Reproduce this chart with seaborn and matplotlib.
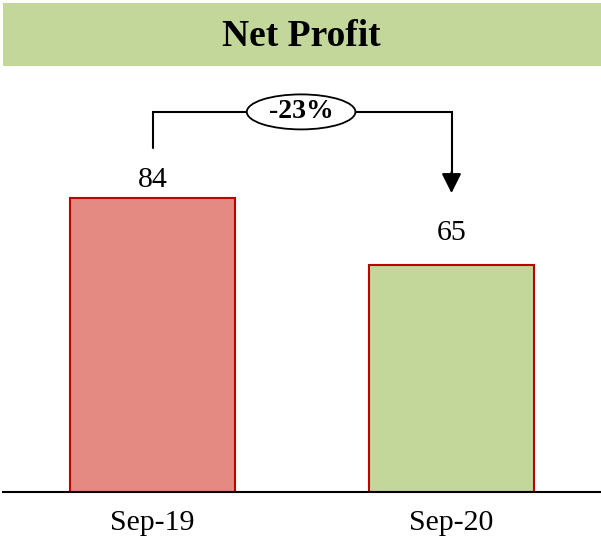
import matplotlib
matplotlib.use("Agg")
import matplotlib.pyplot as plt
import seaborn as sns
import pandas as pd
from matplotlib.patches import Rectangle, Ellipse

categories = ["Sep-19", "Sep-20"]
values = [84, 65]
label_offsets = [5.2, 9.0]
change_label = "-23%"
title = "Net Profit"

bar_colors = ["#e48a82", "#c4d79b"]
edge_color = "#c00000"
header_color = "#c4d79b"

sns.set_theme(style="white")
plt.rcParams["font.family"] = ["Liberation Serif", "DejaVu Serif"]
plt.rcParams["text.color"] = "black"

W, H = 601, 537
fig = plt.figure(figsize=(W / 100, H / 100), dpi=100)

# axes: baseline at y=492px, left at 3px, right at 601px
base_px = 492
top_px = 70
ax = fig.add_axes([3 / W, (H - base_px) / H, (W - 3) / W, (base_px - top_px) / H])

df = pd.DataFrame({"period": categories, "value": values})
sns.barplot(data=df, x="period", y="value", hue="period", palette=bar_colors,
            legend=False, width=0.553, edgecolor=edge_color, linewidth=1.5,
            saturation=1, ax=ax)

px_per_unit = 3.5
ax.set_xlim(-0.5, 1.5)
ax.set_ylim(0, (base_px - top_px) / px_per_unit)

for s in ["top", "right", "left"]:
    ax.spines[s].set_visible(False)
ax.spines["bottom"].set_color("black")
ax.spines["bottom"].set_linewidth(1.5)
ax.set_yticks([])
ax.set_xlabel("")
ax.set_ylabel("")
ax.tick_params(axis="x", length=0, pad=13, labelsize=21.5, colors="black")
for lbl in ax.get_xticklabels():
    lbl.set_fontfamily(["Liberation Serif", "DejaVu Serif"])

# value labels
for i, (v, off) in enumerate(zip(values, label_offsets)):
    ax.text(i, v + off, f"{v}", ha="center", va="center", fontsize=21.5, color="black")

# connector with arrow
y_h = max(values) + 24.6
y_start = values[0] + 14.3
y_tip = values[1] + 20.4
ax.plot([0, 0, 0.33], [y_start, y_h, y_h], color="black", lw=1.5, solid_joinstyle="miter")
ax.plot([0.67, 1, 1], [y_h, y_h, y_tip + 3], color="black", lw=1.5, solid_joinstyle="miter")
ax.annotate("", xy=(1, y_tip), xytext=(1, y_tip + 6),
            arrowprops=dict(arrowstyle="-|>,head_length=1.0,head_width=0.5",
                            color="black", lw=1.5, shrinkA=0, shrinkB=0))
ell = Ellipse((0.497, y_h), width=109 / 300, height=35 / px_per_unit,
              facecolor="white", edgecolor="black", lw=1.3, zorder=5)
ax.add_patch(ell)
ax.text(0.497, y_h, change_label, ha="center", va="center", fontsize=20,
        fontweight="bold", color="black", zorder=6)

# header bar
fig.patches.append(Rectangle((3 / W, (H - 66) / H), (W - 3) / W, 63 / H,
                             transform=fig.transFigure, facecolor=header_color,
                             edgecolor="none", zorder=0))
fig.text(301 / W, (H - 36) / H, title, ha="center", va="center", fontsize=27,
         fontweight="bold", color="black")

fig.savefig("out.png", dpi=100)
